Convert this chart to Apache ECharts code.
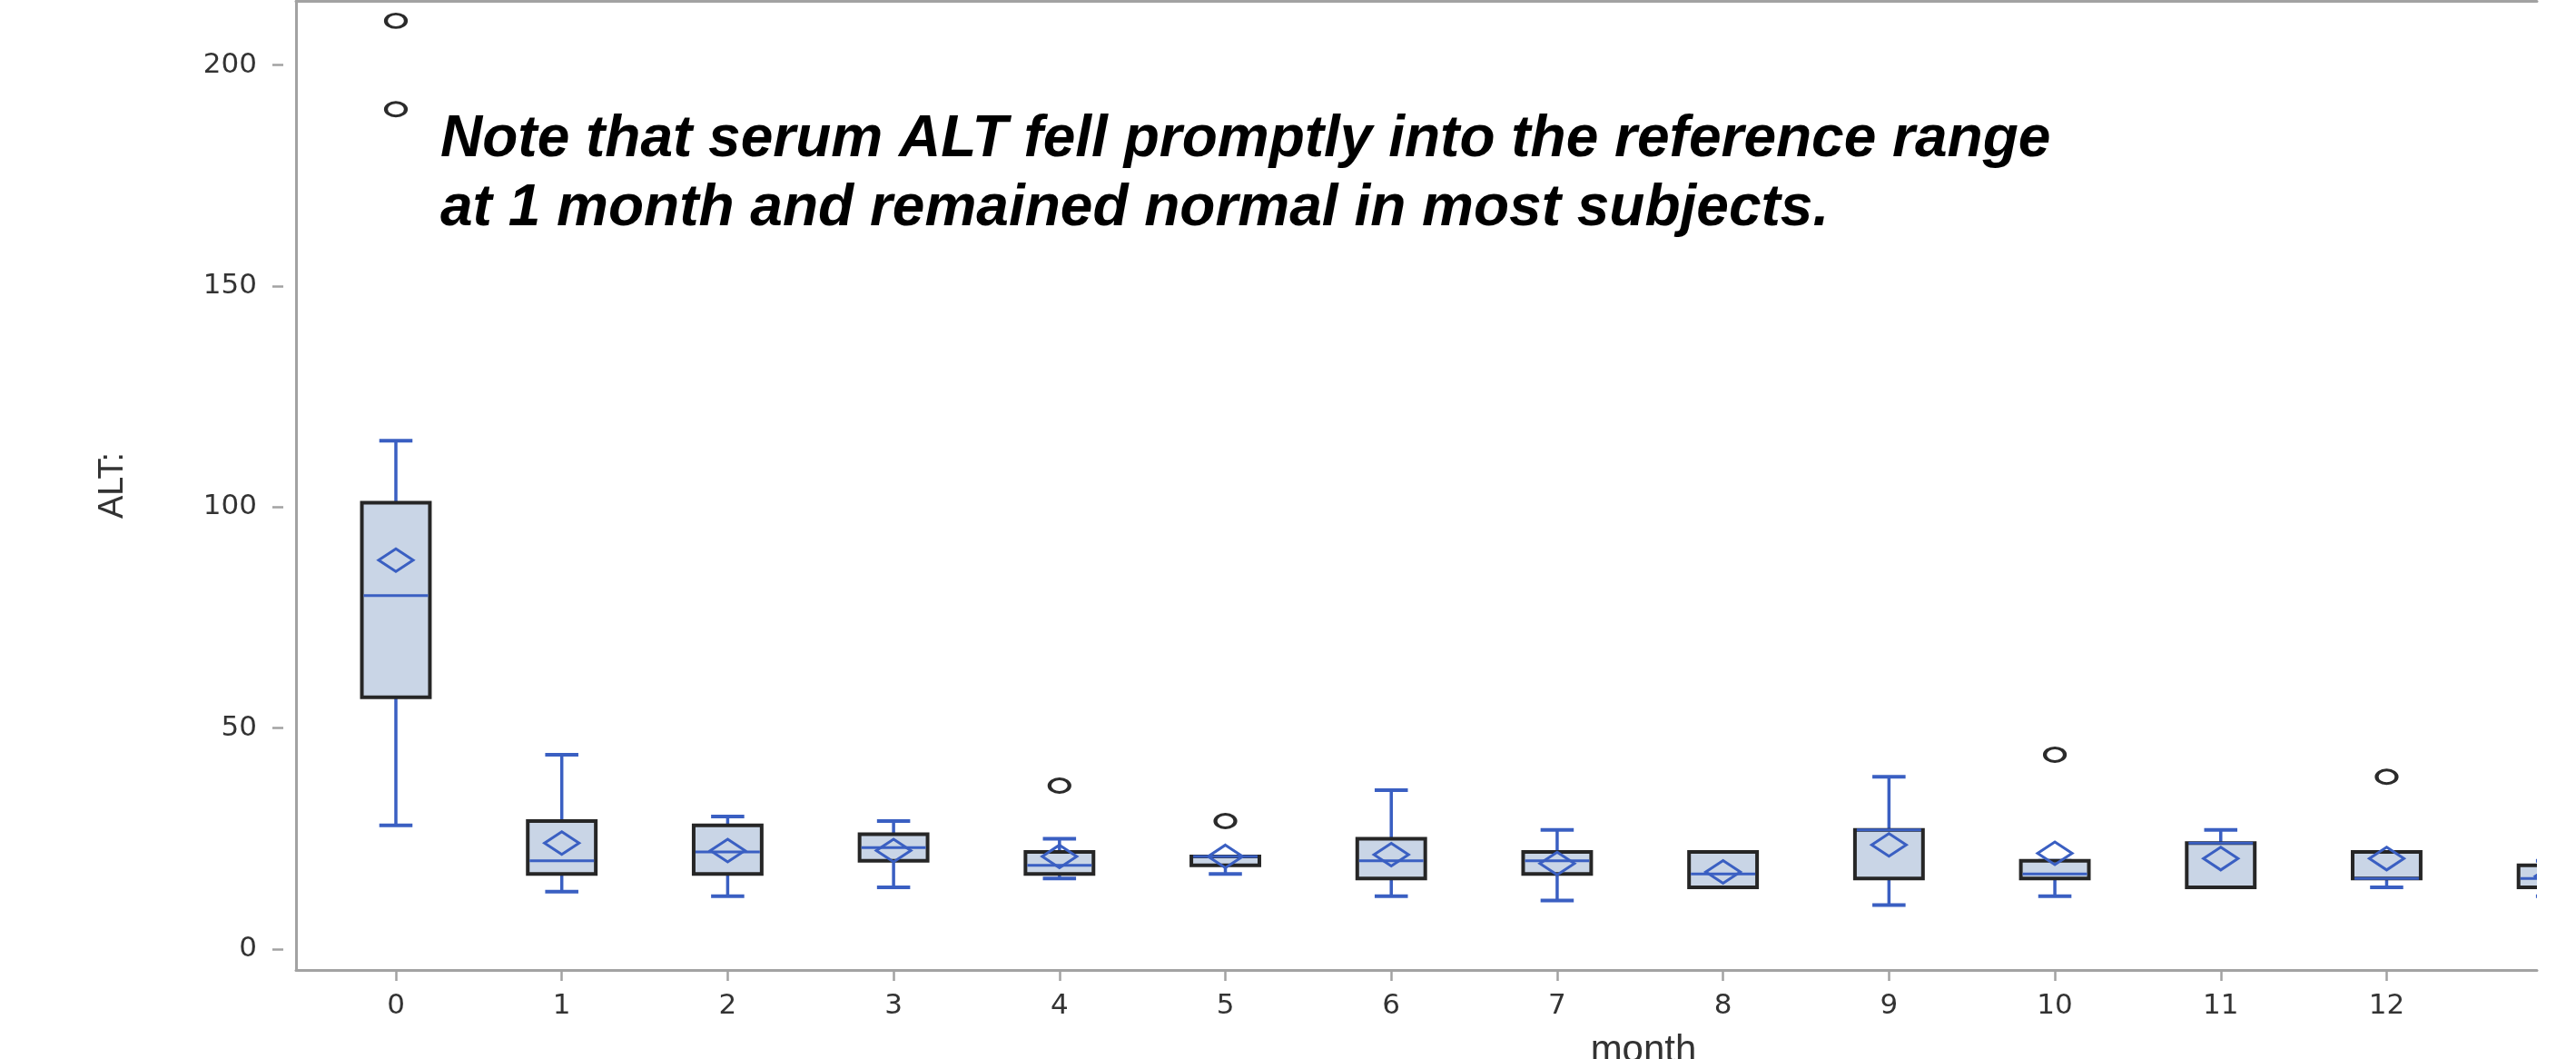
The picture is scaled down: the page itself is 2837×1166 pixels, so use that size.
<!DOCTYPE html>
<html>
<head>
<meta charset="utf-8">
<style>
html,body{margin:0;padding:0;background:#fff;}
#chart{width:2837px;height:1166px;}
</style>
<script src="https://cdn.jsdelivr.net/npm/echarts@6/dist/echarts.min.js"></script>
</head>
<body>
<div id="chart"></div>
<script>
// ---- data ----
const months     = [0, 1, 2, 3, 4, 5, 6, 7, 8, 9, 10, 11, 12, 13];
const whiskerLow = [28, 13, 12, 14, 16, 17, 12, 11, 14, 10, 12, 14, 14, 12];
const q1         = [57, 17, 17, 20, 17, 19, 16, 17, 14, 16, 16, 14, 16, 14];
const median     = [80, 20, 22, 23, 19, 21, 20, 20, 17, 27, 17, 24, 16, 16];
const q3         = [101, 29, 28, 26, 22, 21, 25, 22, 22, 27, 20, 24, 22, 19];
const whiskerHigh= [115, 44, 30, 29, 25, 21, 36, 27, 22, 39, 20, 27, 22, 20];
const meanVal    = [88, 24, 22.3, 22.3, 21, 21, 21.4, 19.4, 17.5, 23.6, 21.7, 20.5, 20.5, 16.5];
const outlierMonth = [0, 0, 4, 5, 10, 12];
const outlierValue = [190, 210, 37, 29, 44, 39];
const yTicks = [0, 50, 100, 150, 200];
const xTickLabels = ['0','1','2','3','4','5','6','7','8','9','10','11','12'];
const noteLines = ['Note that serum ALT fell promptly into the reference range',
                   'at 1 month and remained normal in most subjects.'];

const BLUE = '#3a5fc2';
const FILL = '#c9d5e6';
const EDGE = '#262626';
const AXIS = '#a2a2a2';
const TXT = '#333333';

const boxData = months.map((m, i) => [m, whiskerLow[i], q1[i], median[i], q3[i], whiskerHigh[i], meanVal[i]]);
const outlierData = outlierMonth.map((m, i) => [m, outlierValue[i]]);
const xTickValues = xTickLabels.map(Number);

const X_MIN = -0.602, X_MAX = 12.906;
const Y_MIN = -4.7, Y_MAX = 214.5;

function renderBox(params, api) {
  const x = api.value(0);
  const lo = api.value(1), a = api.value(2), md = api.value(3), b = api.value(4), hi = api.value(5), mn = api.value(6);
  const boxW = api.size([0.41, 0])[0];
  const capW = api.size([0.2, 0])[0];
  const pLo = api.coord([x, lo]), pA = api.coord([x, a]), pMd = api.coord([x, md]);
  const pB = api.coord([x, b]), pHi = api.coord([x, hi]), pMn = api.coord([x, mn]);
  const cx = pA[0];
  const line = (x1, y1, x2, y2, w) => ({
    type: 'line', shape: {x1, y1, x2, y2},
    style: {stroke: BLUE, lineWidth: w || 3}
  });
  const children = [];
  if (pLo[1] - pA[1] > 0.5) children.push(line(cx, pA[1], cx, pLo[1], 3.5));
  if (pB[1] - pHi[1] > 0.5) children.push(line(cx, pHi[1], cx, pB[1], 3.5));
  children.push(line(cx - capW / 2, pLo[1], cx + capW / 2, pLo[1], 4));
  children.push(line(cx - capW / 2, pHi[1], cx + capW / 2, pHi[1], 4));
  children.push({
    type: 'rect',
    shape: {x: cx - boxW / 2, y: pB[1], width: boxW, height: pA[1] - pB[1]},
    style: {fill: FILL, stroke: EDGE, lineWidth: 4}
  });
  children.push(line(cx - boxW / 2 + 2, pMd[1], cx + boxW / 2 - 2, pMd[1], 3));
  const dw = 19, dh = 12.5;
  children.push({
    type: 'polygon',
    shape: {points: [[cx, pMn[1] - dh], [cx + dw, pMn[1]], [cx, pMn[1] + dh], [cx - dw, pMn[1]]]},
    style: {fill: 'none', stroke: BLUE, lineWidth: 3}
  });
  return {type: 'group', children};
}

const chart = echarts.init(document.getElementById('chart'), null, {renderer: 'canvas'});
chart.setOption({
  backgroundColor: '#ffffff',
  animation: false,
  grid: {left: 326, top: 1, right: 43, bottom: 98, show: false, containLabel: false, outerBoundsMode: 'none'},
  xAxis: [{
    type: 'value', min: X_MIN, max: X_MAX, position: 'bottom',
    axisLine: {show: true, onZero: false, lineStyle: {color: AXIS, width: 3}},
    axisTick: {show: true, length: 12, lineStyle: {color: AXIS, width: 2.5}, customValues: xTickValues},
    axisLabel: {show: true, customValues: xTickValues, margin: 24, color: TXT,
                fontFamily: 'DejaVu Sans', fontSize: 31,
                formatter: v => xTickLabels[xTickValues.indexOf(Math.round(v))] ?? ''},
    splitLine: {show: false},
    name: 'month', nameLocation: 'middle', nameGap: 68,
    nameTextStyle: {fontFamily: 'Liberation Sans', fontSize: 42, color: TXT, padding: [0, 0, 0, 500]}
  }, {
    type: 'value', min: X_MIN, max: X_MAX, position: 'top',
    axisLine: {show: true, onZero: false, lineStyle: {color: AXIS, width: 3}},
    axisTick: {show: false}, axisLabel: {show: false}, splitLine: {show: false}
  }],
  yAxis: [{
    type: 'value', min: Y_MIN, max: Y_MAX, position: 'left', offset: 14,
    axisLine: {show: false, onZero: false},
    axisTick: {show: true, length: 12, lineStyle: {color: AXIS, width: 2.5}, customValues: yTicks},
    axisLabel: {show: true, customValues: yTicks, margin: 29, color: TXT,
                fontFamily: 'DejaVu Sans', fontSize: 31},
    splitLine: {show: false},
    name: 'ALT:', nameLocation: 'middle', nameGap: 168, nameRotate: 90,
    nameTextStyle: {fontFamily: 'Liberation Sans', fontSize: 38, color: TXT}
  }, {
    type: 'value', min: Y_MIN, max: Y_MAX, position: 'left', offset: 0,
    axisLine: {show: true, onZero: false, lineStyle: {color: AXIS, width: 3}},
    axisTick: {show: false}, axisLabel: {show: false}, splitLine: {show: false}
  }],
  series: [{
    type: 'custom', name: 'box', xAxisIndex: 0, yAxisIndex: 0, clip: true,
    renderItem: renderBox,
    encode: {x: 0, y: [1, 2, 3, 4, 5, 6]},
    data: boxData
  }, {
    type: 'scatter', name: 'outliers', xAxisIndex: 0, yAxisIndex: 0, clip: true,
    symbol: 'circle', symbolSize: [22, 15],
    itemStyle: {color: 'rgba(255,255,255,0)', borderColor: '#2b2b2b', borderWidth: 3.5, opacity: 1},
    data: outlierData
  }],
  graphic: [{
    type: 'text', left: 485, top: 116, silent: true,
    style: {
      text: noteLines.join('\n'),
      font: 'italic bold 64px "Liberation Sans", Arial, sans-serif',
      lineHeight: 76, fill: '#000000'
    }
  }]
});
</script>
</body>
</html>
